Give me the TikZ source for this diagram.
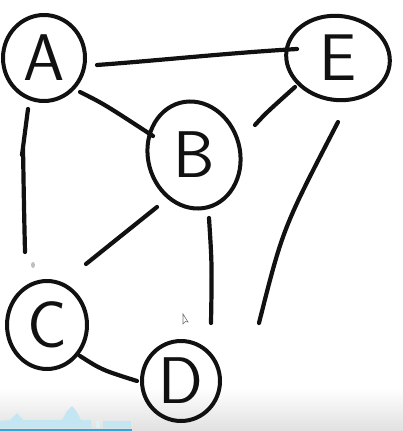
\documentclass[tikz,border=0pt]{standalone}
\usetikzlibrary{shapes.geometric,calc}
\definecolor{ink}{HTML}{111111}
\definecolor{wavecol}{HTML}{C4E6F3}
\definecolor{barcol}{HTML}{2AA9E0}
\tikzset{
  vtx/.style={ellipse, draw=ink, line width=4pt, inner sep=0pt,
              font=\sffamily\fontsize{66}{66}\selectfont, text=ink},
  edge/.style={draw=ink, line width=4.2pt, line cap=round, line join=round},
}
\begin{document}
\begin{tikzpicture}[x=1pt,y=-1pt]
\useasboundingbox (0,0) rectangle (403,431);
\fill[white] (0,0) rectangle (403,431);
% bottom fade and player bar
\shade[top color=white, bottom color=black!12] (0,388) rectangle (403,431);
\fill[wavecol] (0,428) -- (0,421) -- (10,420) -- (17,413) -- (23,420) -- (62,420)
  -- (67,411) -- (72,406) -- (77,412) -- (81,420) -- (91,420) -- (91,428) -- cycle;
\fill[wavecol!60] (96,421) rectangle (100,428);
\fill[wavecol] (103,421) rectangle (131,428);
\fill[barcol] (0,429) rectangle (132,431);

% vertices
\node[vtx, minimum width=82pt, minimum height=86pt] (A) at (44,58) {A};
\node[vtx, minimum width=104pt, minimum height=84pt, rotate=-8] (E) at (338,58) {\rotatebox{8}{E}};
\node[vtx, minimum width=92pt, minimum height=108pt, rotate=15] (B) at (194,155) {\rotatebox{-15}{B}};
\node[vtx, minimum width=80pt, minimum height=88pt] (C) at (47,325) {C};
\node[vtx, minimum width=78pt, minimum height=80pt] (D) at (181,381) {D};

% edges
\draw[edge] ($(A)+(53,7)$) .. controls ($(A)+(120,2)$) and ($(E)+(-110,-5)$) .. ($(E)+(-41,-9)$);
\draw[edge] ($(A)+(36,34)$) .. controls ($(A)+(60,46)$) .. ($(B)+(-41,-19)$);
\draw[edge] ($(B)+(61,-30)$) .. controls ($(B)+(72,-42)$) .. ($(E)+(-43,29)$);
\draw[edge] ($(A)+(-16,51)$) -- ($(A)+(-22,97)$) -- ($(A)+(-21,90)$)
  .. controls ($(A)+(-20,150)$) .. ($(C)+(-22,-73)$);
\fill[black!25] ($(C)+(-14,-60)$) ellipse (2pt and 3pt);
\draw[edge] ($(B)+(-37,52)$) -- ($(C)+(39,-61)$);
\draw[edge] ($(B)+(15,63)$) .. controls ($(B)+(18,110)$) .. ($(D)+(30,-58)$);
\draw[edge] ($(E)+(0,64)$) .. controls ($(E)+(-55,170)$) .. ($(D)+(78,-58)$);
\draw[edge] ($(C)+(33,31)$) .. controls ($(C)+(55,45)$) .. ($(D)+(-44,0)$);

% mouse pointer
\draw[black!55, fill=white, line width=0.6pt] (183,314) -- (183,324) -- (185.5,321.5) -- (188,322) -- cycle;
\end{tikzpicture}
\end{document}
